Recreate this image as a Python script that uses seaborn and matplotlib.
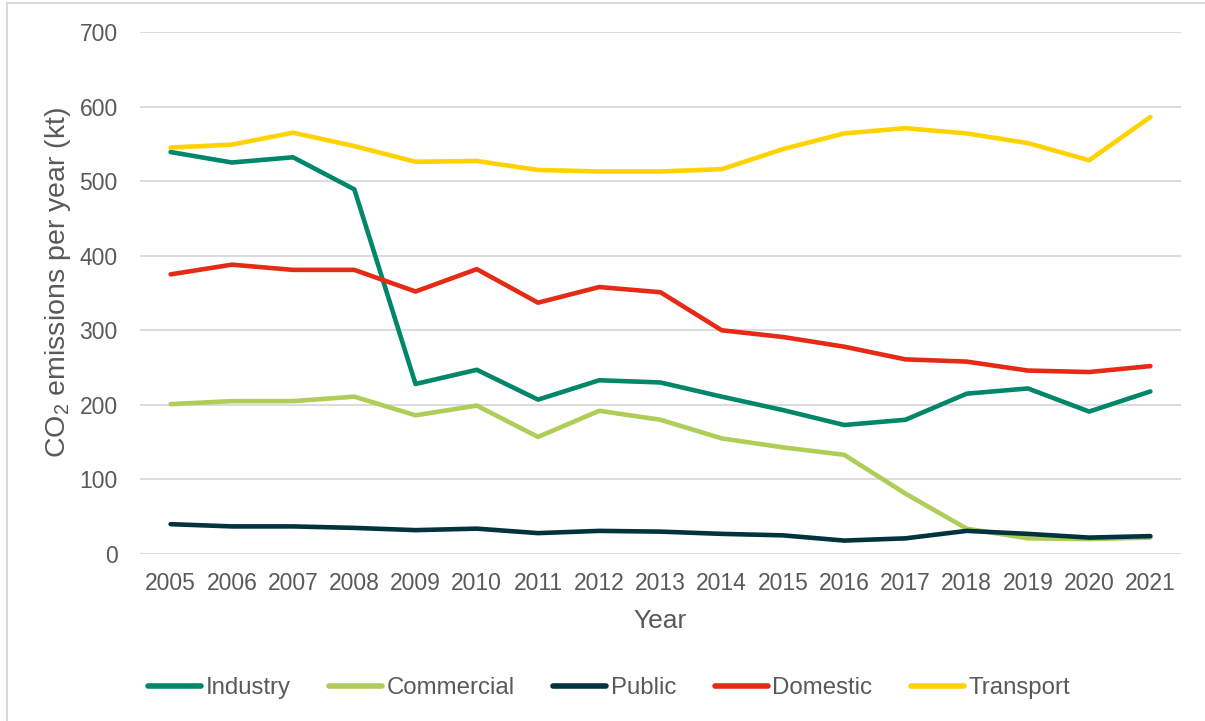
import matplotlib
matplotlib.use("Agg")
import matplotlib.pyplot as plt
from matplotlib.lines import Line2D
import seaborn as sns
import pandas as pd

years = list(range(2005, 2022))
sectors = ["Industry", "Commercial", "Public", "Domestic", "Transport"]

industry = [539, 525, 532, 489, 228, 247, 207, 233, 230, 211, 193, 173, 180, 215, 222, 191, 218]
commercial = [201, 205, 205, 211, 186, 199, 157, 192, 180, 155, 143, 133, 81, 34, 21, 20, 22]
public = [40, 37, 37, 35, 32, 34, 28, 31, 30, 27, 25, 18, 21, 31, 27, 22, 24]
domestic = [375, 388, 381, 381, 352, 382, 337, 358, 351, 300, 291, 278, 261, 258, 246, 244, 252]
transport = [545, 549, 565, 547, 526, 527, 515, 513, 513, 516, 543, 564, 571, 564, 551, 528, 586]

colors = ["#00876A", "#AFCD57", "#00333D", "#E52A16", "#FFD200"]

series = [industry, commercial, public, domestic, transport]
df = pd.DataFrame({
    "Year": years * len(sectors),
    "Emissions": [v for s in series for v in s],
    "Sector": [name for name in sectors for _ in years],
})

sns.set_theme(style="white")
plt.rcParams["font.family"] = ["Liberation Sans", "DejaVu Sans"]
plt.rcParams["mathtext.default"] = "regular"

text_color = "#595959"
grid_color = "#D9D9D9"

fig = plt.figure(figsize=(12.05, 7.21), dpi=100)
W, H = 1205, 721
ax = fig.add_axes([140 / W, 1 - 554 / H, (1181 - 140) / W, (554 - 32) / H])

sns.lineplot(data=df, x="Year", y="Emissions", hue="Sector", hue_order=sectors,
             palette=colors, linewidth=3.3, ax=ax, legend=True,
             solid_capstyle="round", solid_joinstyle="round")

ax.set_xlim(2004.5, 2021.5)
ax.set_ylim(0, 700)
ax.set_xticks(years)
ax.set_xticklabels([str(y) for y in years])
ax.set_yticks(range(0, 701, 100))
ax.yaxis.grid(True, color=grid_color, linewidth=1.3)
ax.xaxis.grid(False)
ax.set_axisbelow(True)
for sp in ax.spines.values():
    sp.set_visible(False)
ax.tick_params(axis="y", length=0, pad=16, labelsize=16.5, labelcolor=text_color)
ax.tick_params(axis="x", length=0, pad=13, labelsize=16.5, labelcolor=text_color)

ax.set_xlabel("Year", fontsize=19, color=text_color)
ax.xaxis.set_label_coords(0.5, -0.106)
ax.set_ylabel("CO$_2$ emissions per year (kt)", fontsize=20.5, color=text_color)
ax.yaxis.set_label_coords(-0.064, 0.52)

handles, labels = ax.get_legend_handles_labels()
ax.get_legend().remove()
for h in handles:
    h.set_linewidth(4.0)
    h.set_solid_capstyle("round")
fig.legend(handles, labels, loc="center", bbox_to_anchor=(609 / W, 1 - 688 / H),
           ncol=5, frameon=False, fontsize=17.3, handlelength=2.2,
           handletextpad=0.2, columnspacing=1.6, labelcolor=text_color)

# thin frame around the chart area
fig.add_artist(Line2D([7 / W, 7 / W], [0, 1 - 3 / H], transform=fig.transFigure,
                      color=grid_color, linewidth=1.5))
fig.add_artist(Line2D([7 / W, 1], [1 - 3 / H, 1 - 3 / H], transform=fig.transFigure,
                      color=grid_color, linewidth=1.5))

fig.savefig("out.png", dpi=100, facecolor="white")
